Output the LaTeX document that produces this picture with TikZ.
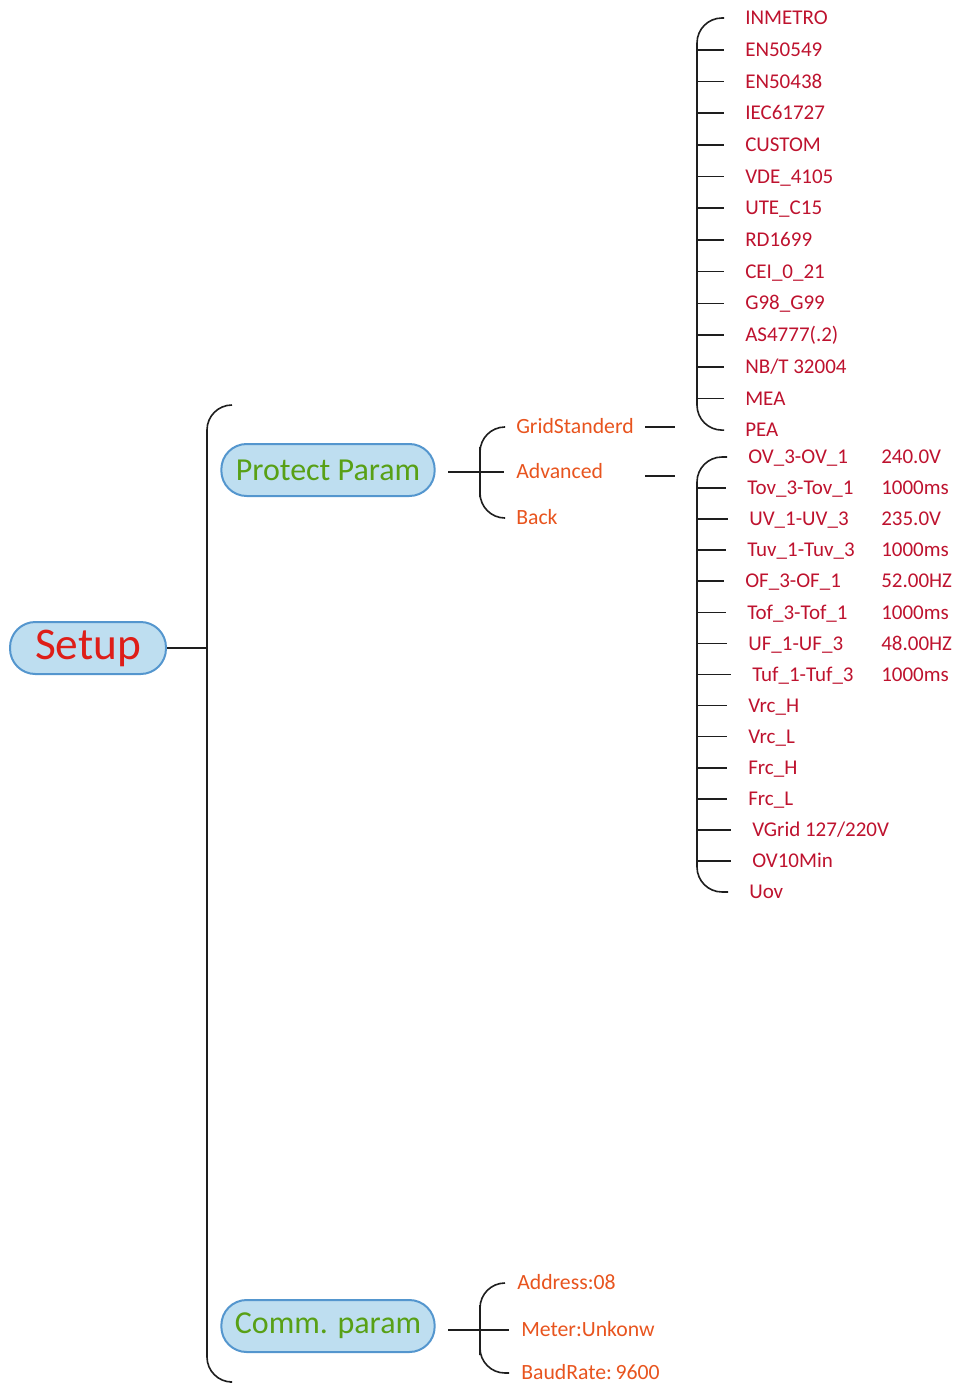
\documentclass[tikz,border=0pt]{standalone}
\usepackage{fontspec}
\setmainfont{Carlito}
\definecolor{leafred}{RGB}{190,18,46}
\definecolor{suborange}{RGB}{232,84,30}
\definecolor{setupred}{RGB}{222,30,24}
\definecolor{topicgreen}{RGB}{88,160,22}
\definecolor{pillfill}{RGB}{190,222,240}
\definecolor{pillblue}{RGB}{84,150,206}
\definecolor{linegray}{RGB}{30,30,30}
\tikzset{
  topic/.style={draw=pillblue,fill=pillfill,line width=1.5pt,rounded corners=19pt,minimum height=39pt,inner xsep=0pt},
  sub/.style={anchor=west,inner xsep=9pt,inner ysep=0pt,text=suborange,font=\fontsize{16.3}{19}\selectfont,text height=12pt,text depth=2pt},
  leaf/.style={anchor=west,inner xsep=15.75pt,inner ysep=0pt,text=leafred,font=\fontsize{15.75}{18}\selectfont,text height=12pt,text depth=2pt},
  val/.style={leaf,inner xsep=0pt},
  link/.style={line width=1.2pt,draw=linegray},
  brace/.style={link,rounded corners=18.75pt}
}
\begin{document}
\begin{tikzpicture}[x=0.75pt,y=-0.75pt]
\useasboundingbox (0,0) rectangle (957,1385);

% root and main topics
\node[topic,minimum width=117pt,text=setupred,font=\fontsize{34}{40}\selectfont] (setup) at (88,648) {Setup};
\node[topic,minimum width=160pt,text=topicgreen,font=\fontsize{24}{28}\selectfont] (protect) at (328,470) {Protect Param};
\node[topic,minimum width=160pt,text=topicgreen,font=\fontsize{24}{28}\selectfont] (comm) at (328,1326) {Comm. param};

\coordinate (maintop) at (232,405);
\coordinate (mainsp) at (207,648);
\coordinate (mainbot) at (230,1382);
\draw[link] (setup) -- (mainsp);
\draw[brace] (maintop) -| (mainsp) |- (mainbot);

% protect param
\node[sub] (grid) at (504,427) {GridStanderd};
\node[sub] (adv) at (504,472) {Advanced};
\node[sub] (back) at (504,518) {Back};
\coordinate (ppout) at (448,472);
\coordinate (psp) at (480,472);
\draw[link] (ppout) -- (adv.west);
\draw[brace] (grid.west) -| (psp) |- (back.west);

\coordinate (gridout) at (645,427);
\coordinate (gridin) at (675,427);
\draw[link] (gridout) -- (gridin);
\coordinate (advout) at (645,476);
\coordinate (advin) at (675,476);
\draw[link] (advout) -- (advin);

% grid standards
\foreach \name [count=\i] in {INMETRO,EN50549,EN50438,IEC61727,CUSTOM,VDE\_4105,UTE\_C15,RD1699,CEI\_0\_21,G98\_G99,AS4777(.2),NB/T 32004,MEA,PEA}
  \node[leaf] (g\i) at (724,{18+31.7*(\i-1)}) {\name};
\coordinate (gsp) at (697,224);
\draw[brace] (g1.west) -| (gsp) |- (g14.west);
\foreach \i in {2,...,13}
  \draw[link] (g\i.west -| gsp) -- (g\i.west);

% advanced settings
\foreach \dx/\name [count=\i] in {748/OV\_3-OV\_1,747/Tov\_3-Tov\_1,749/UV\_1-UV\_3,747/Tuv\_1-Tuv\_3,745/OF\_3-OF\_1,747/Tof\_3-Tof\_1,748/UF\_1-UF\_3,752/Tuf\_1-Tuf\_3,748/Vrc\_H,748/Vrc\_L,748/Frc\_H,748/Frc\_L,752/VGrid 127\slash 220V,752/OV10Min,749/Uov}
  \node[leaf] (a\i) at ({\dx-21},{457+31.07*(\i-1)}) {\name};
\coordinate (asp) at (697,675);
\draw[brace] (a1.west) -| (asp) |- (a15.west);
\foreach \i in {2,...,14}
  \draw[link] (a\i.west -| asp) -- (a\i.west);

\foreach \v [count=\i] in {240.0V,1000ms,235.0V,1000ms,52.00HZ,1000ms,48.00HZ,1000ms}
  \node[val] (v\i) at (881,{457+31.07*(\i-1)}) {\v};

% comm. param
\node[sub] (addr) at (505,1283) {Address:08};
\node[sub] (meter) at (509,1330) {Meter:Unkonw};
\node[sub] (baud) at (509,1373) {BaudRate:\,9600};
\coordinate (cmout) at (448,1330);
\coordinate (csp) at (480,1330);
\draw[link] (cmout) -- (meter.west);
\draw[brace] (addr.west) -| (csp) |- (baud.west);
\end{tikzpicture}
\end{document}
